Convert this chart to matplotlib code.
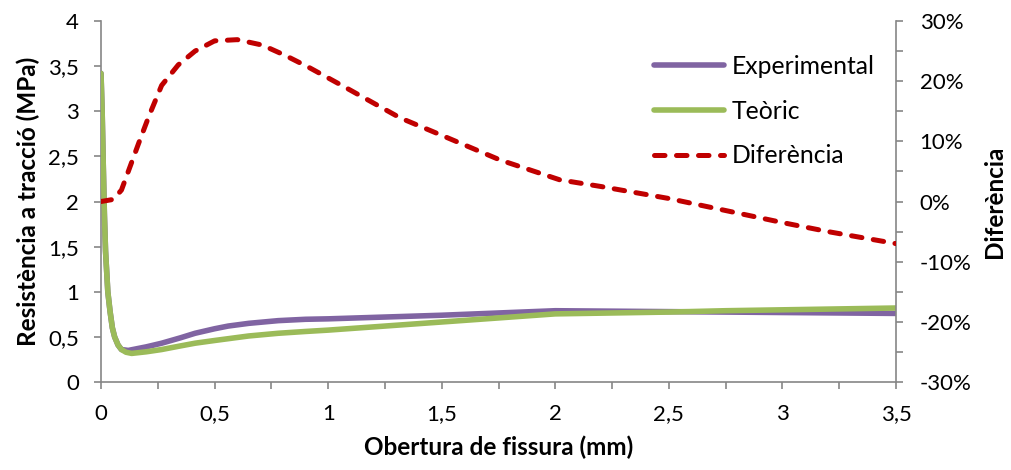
import matplotlib
matplotlib.use("Agg")
import matplotlib.pyplot as plt
from matplotlib.ticker import MultipleLocator

plt.rcParams['font.family'] = ['Lato', 'DejaVu Sans']

# Crack opening (mm) and tensile strength (MPa)
x_exp = [0, 0.005, 0.01, 0.015, 0.02, 0.03, 0.04, 0.05, 0.06, 0.075, 0.09,
         0.12, 0.2, 0.267, 0.35, 0.414, 0.5, 0.56, 0.65, 0.78, 0.9, 1.0,
         1.25, 1.5, 1.75, 2.0, 2.25, 2.5, 2.75, 3.0, 3.25, 3.5]
experimental = [3.42, 3.0, 2.4, 1.85, 1.45, 1.0, 0.78, 0.6, 0.5, 0.41, 0.36,
                0.35, 0.39, 0.43, 0.49, 0.54, 0.59, 0.62, 0.65, 0.68, 0.695, 0.70,
                0.72, 0.74, 0.765, 0.79, 0.785, 0.78, 0.775, 0.77, 0.765, 0.76]

x_teo = [0, 0.005, 0.01, 0.015, 0.02, 0.03, 0.04, 0.05, 0.06, 0.075, 0.09,
         0.11, 0.135, 0.2, 0.267, 0.35, 0.414, 0.5, 0.56, 0.65, 0.78, 0.9, 1.0,
         1.25, 1.5, 1.75, 2.0, 2.25, 2.5, 2.75, 3.0, 3.25, 3.5]
teoric = [3.42, 3.0, 2.4, 1.85, 1.45, 1.0, 0.78, 0.6, 0.5, 0.41, 0.36,
          0.33, 0.317, 0.335, 0.36, 0.40, 0.43, 0.46, 0.48, 0.51, 0.54, 0.56, 0.575,
          0.62, 0.665, 0.71, 0.755, 0.765, 0.775, 0.79, 0.80, 0.81, 0.82]

# Relative difference (%)
x_dif = [0, 0.054, 0.09, 0.128, 0.165, 0.21, 0.267, 0.34, 0.414, 0.5, 0.6,
         0.71, 0.81, 0.91, 1.06, 1.317, 1.5, 1.757, 2.02, 2.2, 2.5, 2.8, 3.0,
         3.2, 3.5]
diferencia = [0, 0.35, 1.9, 5.8, 9.6, 14.1, 19.3, 22.7, 25.0, 26.7, 26.9,
              26.0, 24.3, 22.4, 19.3, 13.9, 11.0, 6.9, 3.6, 2.5, 0.5, -1.9, -3.5,
              -5.0, -7.0]

x_ticks = [0, 0.5, 1, 1.5, 2, 2.5, 3, 3.5]
x_ticklabels = ["0", "0,5", "1", "1,5", "2", "2,5", "3", "3,5"]
y_ticks = [0, 0.5, 1, 1.5, 2, 2.5, 3, 3.5, 4]
y_ticklabels = ["0", "0,5", "1", "1,5", "2", "2,5", "3", "3,5", "4"]
y2_ticks = [-30, -20, -10, 0, 10, 20, 30]
y2_ticklabels = ["-30%", "-20%", "-10%", "0%", "10%", "20%", "30%"]

purple = "#8064A2"
green = "#9BBB59"
red = "#C00000"
axis_grey = "#868686"

fig = plt.figure(figsize=(10.12, 4.70), dpi=100)
ax = fig.add_axes([0.0998, 0.1872, 0.7856, 0.7681])
ax2 = ax.twinx()

l1, = ax.plot(x_exp, experimental, color=purple, lw=4.0, solid_capstyle='round',
              solid_joinstyle='round', label="Experimental", zorder=3)
l2, = ax.plot(x_teo, teoric, color=green, lw=4.0, solid_capstyle='round',
              solid_joinstyle='round', label="Teòric", zorder=4)
l3, = ax2.plot(x_dif, diferencia, color=red, lw=3.6, dashes=(2.1, 2.3),
               dash_capstyle='round', label="Diferència", zorder=5)

ax.set_xlim(0, 3.5)
ax.set_ylim(0, 4)
ax2.set_ylim(-30, 30)

ax.set_xticks(x_ticks)
ax.set_xticklabels(x_ticklabels)
ax.xaxis.set_minor_locator(MultipleLocator(0.25))
ax.set_yticks(y_ticks)
ax.set_yticklabels(y_ticklabels)
ax2.set_yticks(y2_ticks)
ax2.set_yticklabels(y2_ticklabels)
ax2.yaxis.set_minor_locator(MultipleLocator(5))

for a in (ax, ax2):
    a.spines['top'].set_visible(False)
    for s in ('left', 'right', 'bottom'):
        a.spines[s].set_color(axis_grey)
        a.spines[s].set_linewidth(1.2)
    a.set_facecolor('none')
ax2.spines['left'].set_visible(False)
ax2.spines['bottom'].set_visible(False)
ax.spines['right'].set_visible(False)

tick_fs = 16
ax.tick_params(axis='x', which='both', direction='out', length=5, width=1.2,
               color=axis_grey, labelsize=tick_fs, pad=11)
ax.tick_params(axis='y', which='both', direction='out', length=5, width=1.2,
               color=axis_grey, labelsize=tick_fs, pad=11)
ax2.tick_params(axis='y', which='both', direction='out', length=5, width=1.2,
                color=axis_grey, labelsize=tick_fs, pad=12)

label_fs = 17.5
ax.set_xlabel("Obertura de fissura (mm)", fontsize=label_fs, fontweight='bold', labelpad=8)
ax.set_ylabel("Resistència a tracció (MPa)", fontsize=label_fs, fontweight='bold', labelpad=6)
ax2.set_ylabel("Diferència", fontsize=label_fs, fontweight='bold', labelpad=8)

leg = ax.legend(handles=[l1, l2, l3], loc='upper left',
                bbox_to_anchor=(0.695, 0.906), frameon=False, fontsize=17.8,
                handlelength=2.85, handletextpad=0.3, labelspacing=0.88,
                borderaxespad=0.0, borderpad=0.0)

fig.savefig("out.png", dpi=100)
